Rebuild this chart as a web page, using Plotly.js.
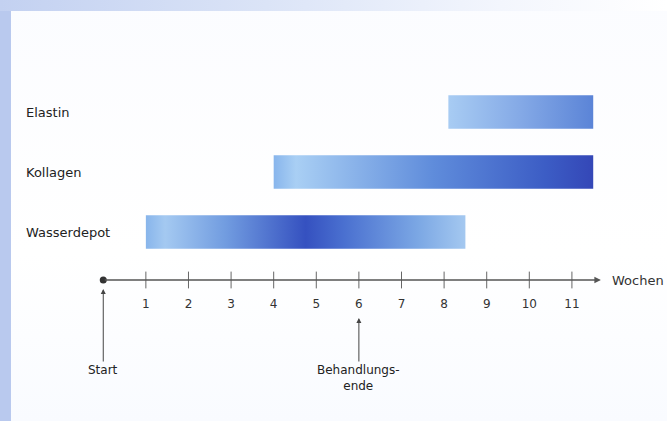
<!DOCTYPE html>
<html>
<head>
<meta charset="utf-8">
<script src="https://cdn.plot.ly/plotly-3.0.1.min.js"></script>
<style>
  html, body { margin: 0; padding: 0; }
  #wrap { position: relative; width: 667px; height: 421px; overflow: hidden;
          background: linear-gradient(180deg, #fbfcff 0%, #ffffff 60%, #f9fbff 100%); }
  #leftband { position: absolute; left: 0; top: 0; width: 11px; height: 421px; background: #b9c9ee; }
  #topband { position: absolute; left: 0; top: 0; width: 667px; height: 11px;
             background: linear-gradient(90deg, #c3d1f1 0%, #dbe4f7 40%, #f3f6fd 75%, #ffffff 100%); }
  #chart { position: absolute; left: 0; top: 0; width: 667px; height: 421px; }
</style>
</head>
<body>
<div id="wrap">
  <div id="leftband"></div>
  <div id="topband"></div>
  <div id="chart"></div>
</div>
<script>
// ---- data ----
const categories = ['Wasserdepot', 'Kollagen', 'Elastin'];
const startWeek = [1.0, 4.0, 8.1];
const endWeek = [8.5, 11.5, 11.5];
const tickWeeks = [1, 2, 3, 4, 5, 6, 7, 8, 9, 10, 11];
const tickLabels = ['1', '2', '3', '4', '5', '6', '7', '8', '9', '10', '11'];
const axisTitle = 'Wochen';
const eventWeeks = [0, 6];
const eventLabels = ['Start', 'Behandlungs-<br>ende'];

// ---- styles ----
const gradients = [
  [[0, '#88b5eb'], [0.06, '#a4c9f1'], [0.25, '#719ce0'], [0.5, '#3551c0'], [0.62, '#4a70d0'], [0.85, '#7ba7e4'], [1, '#a4c8f0']],
  [[0, '#88b5ec'], [0.07, '#a9cff4'], [0.5, '#5f8cdb'], [0.85, '#3c5dc5'], [1, '#3447b7']],
  [[0, '#a8ccf3'], [0.5, '#84a9e6'], [1, '#5b84d7']]
];
const halfH = 0.28;
const axisY = 0.2;
const font = 'DejaVu Sans, Verdana, sans-serif';
const plotH = 421 - 64 - 141;

const traces = categories.map((c, i) => {
  const yc = i + 1;
  return {
    type: 'scatter',
    mode: 'lines',
    x: [startWeek[i], endWeek[i], endWeek[i], startWeek[i], startWeek[i]],
    y: [yc - halfH, yc - halfH, yc + halfH, yc + halfH, yc - halfH],
    fill: 'toself',
    fillgradient: { type: 'horizontal', colorscale: gradients[i] },
    line: { width: 0 },
    hoverinfo: 'skip',
    showlegend: false
  };
});

traces.push({
  type: 'scatter', mode: 'markers',
  x: tickWeeks, y: tickWeeks.map(() => axisY),
  marker: { symbol: 'line-ns', size: 12, line: { width: 1, color: '#666' } },
  cliponaxis: false, hoverinfo: 'skip', showlegend: false
});
traces.push({
  type: 'scatter', mode: 'markers',
  x: [0], y: [axisY],
  marker: { symbol: 'circle', size: 7, color: '#333' },
  cliponaxis: false, hoverinfo: 'skip', showlegend: false
});

const annotations = [];
// axis arrow
annotations.push({
  x: 11.68, y: axisY, ax: 0, ay: axisY, axref: 'x', ayref: 'y', xref: 'x', yref: 'y',
  text: '', showarrow: true, arrowhead: 2, arrowsize: 1, arrowwidth: 1.3, arrowcolor: '#555'
});
annotations.push({
  x: 1.008, y: 0, xref: 'paper', yref: 'paper', xanchor: 'left', yanchor: 'middle',
  text: axisTitle, showarrow: false, font: { family: font, size: 13, color: '#333' }
});
// category labels
categories.forEach((c, i) => {
  annotations.push({
    x: -0.148, xref: 'paper', y: i + 1, yref: 'y', xanchor: 'left', yanchor: 'middle',
    text: c, showarrow: false, font: { family: font, size: 13, color: '#222' }
  });
});
// event arrows (tips below the axis, in paper coordinates)
const tipPx = [9, 38];
const offs = [81, 60];
eventWeeks.forEach((w, i) => {
  annotations.push({
    x: w, y: -tipPx[i] / plotH, xref: 'x', yref: 'paper', ax: 0, ay: offs[i],
    text: eventLabels[i], showarrow: true, arrowhead: 2, arrowsize: 1, arrowwidth: 1,
    arrowcolor: '#444', font: { family: font, size: 12, color: '#222' }
  });
});

const layout = {
  width: 667, height: 421,
  margin: { l: 99, r: 61, t: 64, b: 141 },
  paper_bgcolor: 'rgba(0,0,0,0)', plot_bgcolor: 'rgba(0,0,0,0)',
  showlegend: false,
  xaxis: {
    range: [-0.1, 11.8], showgrid: false, zeroline: false, showline: false,
    tickvals: tickWeeks, ticktext: tickLabels, ticks: '',
    ticklabelstandoff: 15,
    tickfont: { family: font, size: 12, color: '#333' }, fixedrange: true
  },
  yaxis: {
    range: [axisY, 3.8], visible: false, fixedrange: true
  },
  annotations: annotations
};

Plotly.newPlot('chart', traces, layout, { displayModeBar: false, staticPlot: true });
</script>
</body>
</html>
